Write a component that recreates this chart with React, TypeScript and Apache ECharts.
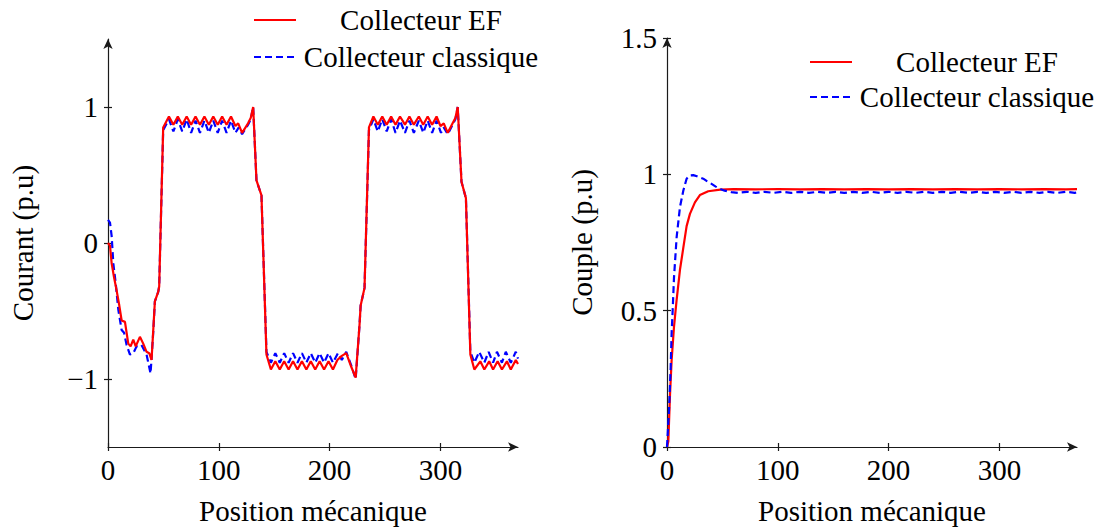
import React, { useEffect, useRef } from "react";
import * as echarts from "echarts";

const FONT = "'Liberation Serif', 'Times New Roman', serif";

// Left chart: current (p.u) vs mechanical position
const courantEF: [number, number][] = [
  [0, 0.0], [1.8, -0.02], [3.3, -0.15], [5.4, -0.25], [7.8, -0.35], [10.2, -0.46], [12.3, -0.57],
  [15.3, -0.58], [18.3, -0.74], [20.4, -0.76], [22.8, -0.71], [25, -0.76], [28.8, -0.69], [31.8, -0.74],
  [34.8, -0.8], [37.2, -0.81], [39.3, -0.86], [42.3, -0.43], [45.3, -0.36], [46.2, -0.32], [49.8, 0.85],
  [55, 0.93], [59, 0.87], [63, 0.93], [67, 0.87], [71, 0.93], [75, 0.87], [79, 0.93], [83, 0.87],
  [87, 0.93], [91, 0.87], [95, 0.93], [99, 0.87], [103, 0.93], [107, 0.87], [111, 0.93], [115, 0.86],
  [117.5, 0.88], [121, 0.81], [126.4, 0.88], [128.8, 0.92], [131, 1.0],
  [134, 0.46], [138.5, 0.35], [143, -0.82],
  [147, -0.93], [151, -0.87], [155, -0.93], [159, -0.87], [163, -0.93], [167, -0.87], [171, -0.93],
  [175, -0.87], [179, -0.93], [183, -0.87], [187, -0.93], [191, -0.87], [195, -0.93], [199, -0.87],
  [203, -0.93], [207, -0.86], [211, -0.83], [215, -0.81], [219.5, -0.91], [223.5, -0.99],
  [227, -0.6], [228, -0.46], [231.5, -0.33], [235.5, 0.85],
  [239.5, 0.93], [243.5, 0.87], [247.5, 0.93], [251.5, 0.87], [255.5, 0.93], [259.5, 0.87], [263.5, 0.93],
  [268, 0.87], [272, 0.93], [276, 0.87], [280.5, 0.93], [284.5, 0.87], [288.5, 0.93], [292.5, 0.87],
  [296.5, 0.93], [300, 0.86], [303, 0.88], [306.6, 0.81], [311, 0.88], [313.5, 0.92], [315.6, 1.0],
  [319, 0.45], [323, 0.33], [327, -0.82],
  [330.6, -0.93], [336, -0.87], [339.6, -0.93], [344, -0.87], [347.5, -0.93], [351.6, -0.87],
  [355.5, -0.93], [360, -0.87], [363.5, -0.93], [368, -0.86], [370, -0.89],
];

const courantClassique: [number, number][] = [
  [0, 0.17], [1.8, 0.15], [3.3, 0.05], [4.8, -0.15], [7, -0.3], [9.3, -0.49], [12.3, -0.64],
  [14.5, -0.66], [16.8, -0.75], [19.8, -0.82], [22.8, -0.81], [25.8, -0.76], [30.2, -0.75],
  [34.8, -0.82], [38.4, -0.96], [40.8, -0.66], [42.3, -0.43], [45.3, -0.36], [46.2, -0.32], [49.8, 0.83],
  [55, 0.91], [59, 0.82], [63, 0.91], [67, 0.82], [71, 0.91], [75, 0.81], [79, 0.9], [83, 0.81],
  [87, 0.9], [91, 0.81], [95, 0.9], [99, 0.81], [103, 0.9], [107, 0.81], [111, 0.9], [115, 0.81],
  [118, 0.85], [121, 0.8], [126.4, 0.87], [128.8, 0.91], [131, 1.0],
  [134, 0.46], [138.5, 0.35], [143, -0.8],
  [147, -0.88], [151, -0.81], [155, -0.88], [159, -0.81], [163, -0.88], [167, -0.81], [171, -0.88],
  [175, -0.81], [179, -0.88], [183, -0.81], [187, -0.88], [191, -0.81], [195, -0.88], [199, -0.81],
  [203, -0.88], [207.5, -0.81], [211, -0.86], [215, -0.8], [219.5, -0.9], [223.5, -1.0],
  [227, -0.6], [228, -0.46], [231.5, -0.33], [235.5, 0.83],
  [239.5, 0.91], [243.5, 0.82], [247.5, 0.91], [251.5, 0.82], [255.5, 0.91], [259.5, 0.81], [263.5, 0.9],
  [268, 0.81], [272, 0.9], [276, 0.81], [280.5, 0.9], [284.5, 0.81], [288.5, 0.9], [292.5, 0.81],
  [296.5, 0.9], [300.5, 0.81], [303, 0.85], [306.6, 0.8], [311, 0.87], [313.5, 0.91], [315.6, 1.0],
  [319, 0.45], [323, 0.33], [327, -0.8],
  [330.6, -0.88], [335, -0.8], [339.6, -0.88], [343.5, -0.8], [347.5, -0.88], [351, -0.8],
  [355.5, -0.88], [359, -0.8], [363.5, -0.88], [368, -0.8], [370, -0.85],
];

// Right chart: torque (p.u) vs mechanical position
const coupleEF: [number, number][] = [
  [0, 0], [1.2, 0.02], [2.7, 0.19], [4.2, 0.32], [6.3, 0.44], [8.7, 0.54], [11.7, 0.65], [14.7, 0.73],
  [17.7, 0.81], [20.7, 0.855], [25.2, 0.897], [29.7, 0.924], [37.2, 0.938], [48, 0.944], [60, 0.946],
  [80, 0.945], [100, 0.946], [120, 0.945], [140, 0.946], [160, 0.945], [180, 0.946], [200, 0.945],
  [220, 0.946], [240, 0.945], [260, 0.946], [280, 0.945], [300, 0.946], [320, 0.945], [340, 0.946],
  [360, 0.945], [370, 0.946],
];

const coupleClassique: [number, number][] = [
  [0, 0], [1.8, 0.135], [3.3, 0.29], [4.2, 0.42], [5.1, 0.5], [6.3, 0.62], [8.7, 0.77], [11.7, 0.88],
  [14.7, 0.94], [17.7, 0.984], [20.7, 0.996], [23.7, 0.997], [27, 0.993], [32.7, 0.984], [36, 0.975],
  [40.2, 0.965], [44, 0.955], [47.7, 0.947], [52, 0.94], [58, 0.935], [64, 0.932], [72, 0.936],
  [80, 0.932], [88, 0.936], [96, 0.932], [104, 0.936], [112, 0.932], [120, 0.936], [128, 0.932],
  [136, 0.936], [144, 0.932], [152, 0.936], [160, 0.932], [168, 0.936], [176, 0.932], [184, 0.936],
  [192, 0.932], [200, 0.936], [208, 0.932], [216, 0.936], [224, 0.932], [232, 0.936], [240, 0.932],
  [248, 0.936], [256, 0.932], [264, 0.936], [272, 0.932], [280, 0.936], [288, 0.932], [296, 0.936],
  [304, 0.932], [312, 0.936], [320, 0.932], [328, 0.936], [336, 0.932], [344, 0.936], [352, 0.932],
  [360, 0.936], [368, 0.932], [370, 0.934],
];

const xTicks = [0, 100, 200, 300];
const yTicksLeft = [-1, 0, 1];
const yTicksRight = [0, 0.5, 1, 1.5];
const legendNames = ["Collecteur EF", "Collecteur classique"];

const RED = "#ff0000";
const BLUE = "#0000ff";
const AXIS = "#1a1a1a";
const FS = 29;

function fmt(v: number) {
  return v < 0 ? "\u2212" + String(-v) : String(v);
}

const axisLineStyle = {
  onZero: false,
  symbol: ["none", "arrow"],
  symbolSize: [7, 10],
  lineStyle: { color: AXIS, width: 1.2 },
};

function xAxisOf(gridIndex: number) {
  return {
    type: "value",
    gridIndex,
    min: 0,
    max: 370,
    splitLine: { show: false },
    axisLine: axisLineStyle,
    axisTick: { customValues: xTicks, length: 4, lineStyle: { color: AXIS, width: 1.2 } },
    axisLabel: {
      customValues: xTicks,
      formatter: fmt,
      fontSize: FS,
      fontFamily: FONT,
      color: "#000",
      margin: 8,
    },
    name: "Position mécanique",
    nameLocation: "middle",
    nameGap: 49,
    nameTextStyle: { fontSize: FS, fontFamily: FONT, color: "#000" },
  };
}

// inner half of the crossing tick marks
function xInnerTicks(gridIndex: number) {
  return {
    type: "value",
    gridIndex,
    min: 0,
    max: 370,
    position: "bottom",
    splitLine: { show: false },
    axisLine: { show: false, onZero: false },
    axisTick: { inside: true, customValues: xTicks, length: 4, lineStyle: { color: AXIS, width: 1.2 } },
    axisLabel: { show: false },
    silent: true,
  };
}

function yAxisOf(gridIndex: number, min: number, max: number, ticks: number[], name: string) {
  return {
    type: "value",
    gridIndex,
    min,
    max,
    splitLine: { show: false },
    axisLine: axisLineStyle,
    axisTick: { customValues: ticks, length: 4, lineStyle: { color: AXIS, width: 1.2 } },
    axisLabel: {
      customValues: ticks,
      formatter: fmt,
      fontSize: FS,
      fontFamily: FONT,
      color: "#000",
      margin: 10,
    },
    name,
    nameLocation: "middle",
    nameGap: 71,
    nameTextStyle: { fontSize: FS, fontFamily: FONT, color: "#000" },
  };
}

function yInnerTicks(gridIndex: number, min: number, max: number, ticks: number[]) {
  return {
    type: "value",
    gridIndex,
    min,
    max,
    position: "left",
    splitLine: { show: false },
    axisLine: { show: false, onZero: false },
    axisTick: { inside: true, customValues: ticks, length: 4, lineStyle: { color: AXIS, width: 1.2 } },
    axisLabel: { show: false },
    silent: true,
  };
}

function legendGraphic(lineX: number, y1: number, y2: number, textCx: number) {
  const textStyle = (text: string) => ({
    text,
    fontSize: FS,
    fontFamily: FONT,
    fill: "#000",
    align: "center",
    verticalAlign: "middle",
  });
  return [
    {
      type: "line",
      shape: { x1: lineX, y1, x2: lineX + 42, y2: y1 },
      style: { stroke: RED, lineWidth: 2.2 },
    },
    { type: "text", x: textCx, y: y1, style: textStyle(legendNames[0]) },
    {
      type: "line",
      shape: { x1: lineX, y1: y2, x2: lineX + 42, y2 },
      style: { stroke: BLUE, lineWidth: 2.2, lineDash: [7, 4] },
    },
    { type: "text", x: textCx, y: y2, style: textStyle(legendNames[1]) },
  ];
}

export default function App() {
  const ref = useRef<HTMLDivElement>(null);
  useEffect(() => {
    if (!ref.current) return;
    const chart = echarts.init(ref.current, null, { renderer: "svg" });
    const lineSeries = (name: string, data: [number, number][], idx: number, color: string, dashed: boolean) => ({
      type: "line",
      name,
      data,
      xAxisIndex: idx,
      yAxisIndex: idx,
      showSymbol: false,
      symbol: "none",
      clip: true,
      lineStyle: { color, width: 2.2, type: dashed ? [7, 4] : "solid" },
      itemStyle: { color },
      emphasis: { disabled: true },
    });
    chart.setOption({
      animation: false,
      textStyle: { fontFamily: FONT },
      grid: [
        { left: 108, top: 39, width: 410, height: 408, outerBoundsMode: "none", containLabel: false },
        { left: 667, top: 38, width: 410, height: 409, outerBoundsMode: "none", containLabel: false },
      ],
      xAxis: [xAxisOf(0), xAxisOf(1), xInnerTicks(0), xInnerTicks(1)],
      yAxis: [
        yAxisOf(0, -1.5, 1.5, yTicksLeft, "Courant (p.u)"),
        yAxisOf(1, 0, 1.5, yTicksRight, "Couple (p.u)"),
        yInnerTicks(0, -1.5, 1.5, yTicksLeft),
        yInnerTicks(1, 0, 1.5, yTicksRight),
      ],
      series: [
        lineSeries(legendNames[1], courantClassique, 0, BLUE, true),
        lineSeries(legendNames[0], courantEF, 0, RED, false),
        lineSeries(legendNames[0], coupleEF, 1, RED, false),
        lineSeries(legendNames[1], coupleClassique, 1, BLUE, true),
      ],
      graphic: [...legendGraphic(254, 20, 57, 421), ...legendGraphic(810, 62, 97, 977)],
    });
    return () => chart.dispose();
  }, []);
  return (
    <div
      ref={ref}
      style={{ position: "fixed", left: 0, top: 0, width: 1100, height: 530, background: "#fff" }}
    />
  );
}
